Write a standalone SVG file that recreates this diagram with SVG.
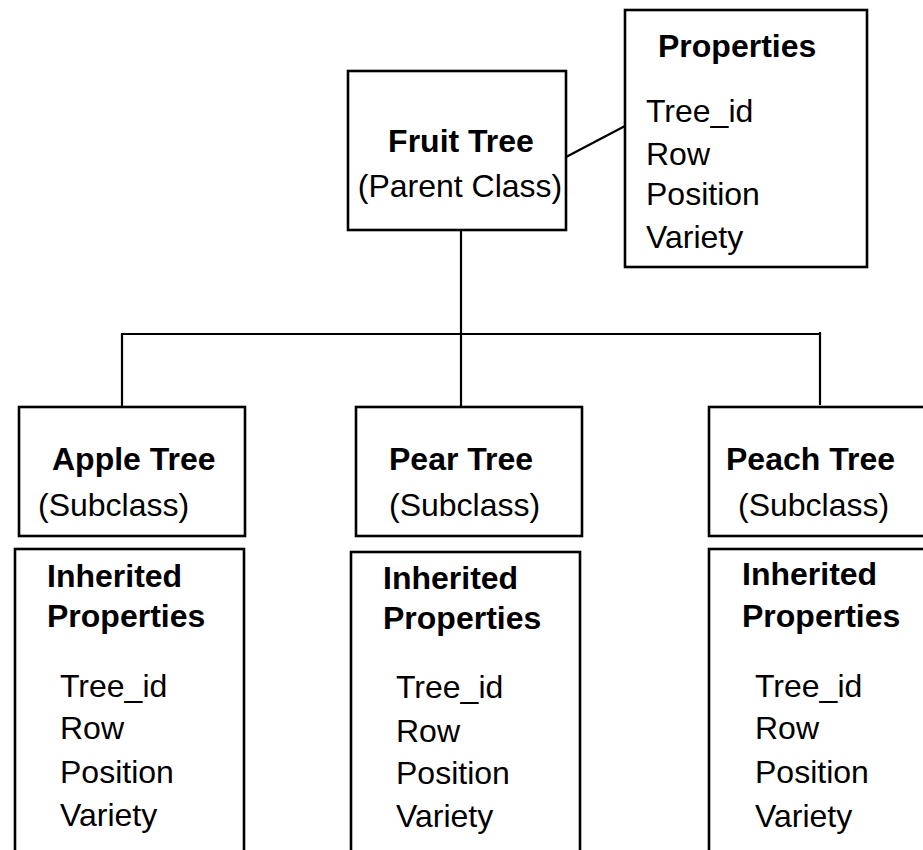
<svg xmlns="http://www.w3.org/2000/svg" width="923" height="850" viewBox="0 0 923 850">
  <style>
    .box { fill: #ffffff; stroke: #000000; stroke-width: 2.6; }
    .wire { fill: none; stroke: #000000; stroke-width: 2.2; }
    text { font-family: "Liberation Sans", Arial, Helvetica, sans-serif; font-size: 32px; fill: #000000; }
    .title { font-weight: bold; }
  </style>
  <rect width="923" height="850" fill="#ffffff"/>

  <!-- connectors -->
  <g id="connectors">
    <line class="wire" x1="566" y1="157" x2="625" y2="126"/>
    <line class="wire" x1="461" y1="230" x2="461" y2="407"/>
    <polyline class="wire" points="122,407 122,334 820,334"/>
    <line class="wire" x1="820" y1="332" x2="820" y2="405"/>
  </g>

  <!-- parent class -->
  <g id="fruit-tree">
    <rect class="box" x="348" y="71" width="218" height="159"/>
    <text class="title" x="461" y="152" text-anchor="middle">Fruit Tree</text>
    <text x="460" y="197" text-anchor="middle">(Parent Class)</text>
  </g>

  <g id="properties">
    <rect class="box" x="625" y="10" width="242" height="257"/>
    <text class="title" x="658" y="57">Properties</text>
    <text x="646" y="122">Tree_id</text>
    <text x="646" y="165">Row</text>
    <text x="646" y="205">Position</text>
    <text x="646" y="248">Variety</text>
  </g>

  <!-- subclasses -->
  <g id="apple-tree">
    <rect class="box" x="19" y="407" width="226" height="129"/>
    <text class="title" x="52" y="470">Apple Tree</text>
    <text x="38" y="516">(Subclass)</text>
  </g>

  <g id="pear-tree">
    <rect class="box" x="356" y="407" width="226" height="129"/>
    <text class="title" x="389" y="470">Pear Tree</text>
    <text x="389" y="516">(Subclass)</text>
  </g>

  <g id="peach-tree">
    <rect class="box" x="709" y="407" width="230" height="129"/>
    <text class="title" x="726" y="470">Peach Tree</text>
    <text x="738" y="516">(Subclass)</text>
  </g>

  <!-- inherited property lists -->
  <g id="apple-inherited">
    <rect class="box" x="15" y="549" width="229" height="320"/>
    <text class="title" x="47" y="587">Inherited</text>
    <text class="title" x="47" y="627">Properties</text>
    <text x="60" y="697">Tree_id</text>
    <text x="60" y="739">Row</text>
    <text x="60" y="783">Position</text>
    <text x="60" y="826">Variety</text>
  </g>

  <g id="pear-inherited">
    <rect class="box" x="351" y="552" width="229" height="320"/>
    <text class="title" x="383" y="589">Inherited</text>
    <text class="title" x="383" y="629">Properties</text>
    <text x="396" y="698">Tree_id</text>
    <text x="396" y="742">Row</text>
    <text x="396" y="784">Position</text>
    <text x="396" y="827">Variety</text>
  </g>

  <g id="peach-inherited">
    <rect class="box" x="709" y="549" width="230" height="320"/>
    <text class="title" x="742" y="585">Inherited</text>
    <text class="title" x="742" y="627">Properties</text>
    <text x="755" y="697">Tree_id</text>
    <text x="755" y="739">Row</text>
    <text x="755" y="783">Position</text>
    <text x="755" y="827">Variety</text>
  </g>
</svg>
